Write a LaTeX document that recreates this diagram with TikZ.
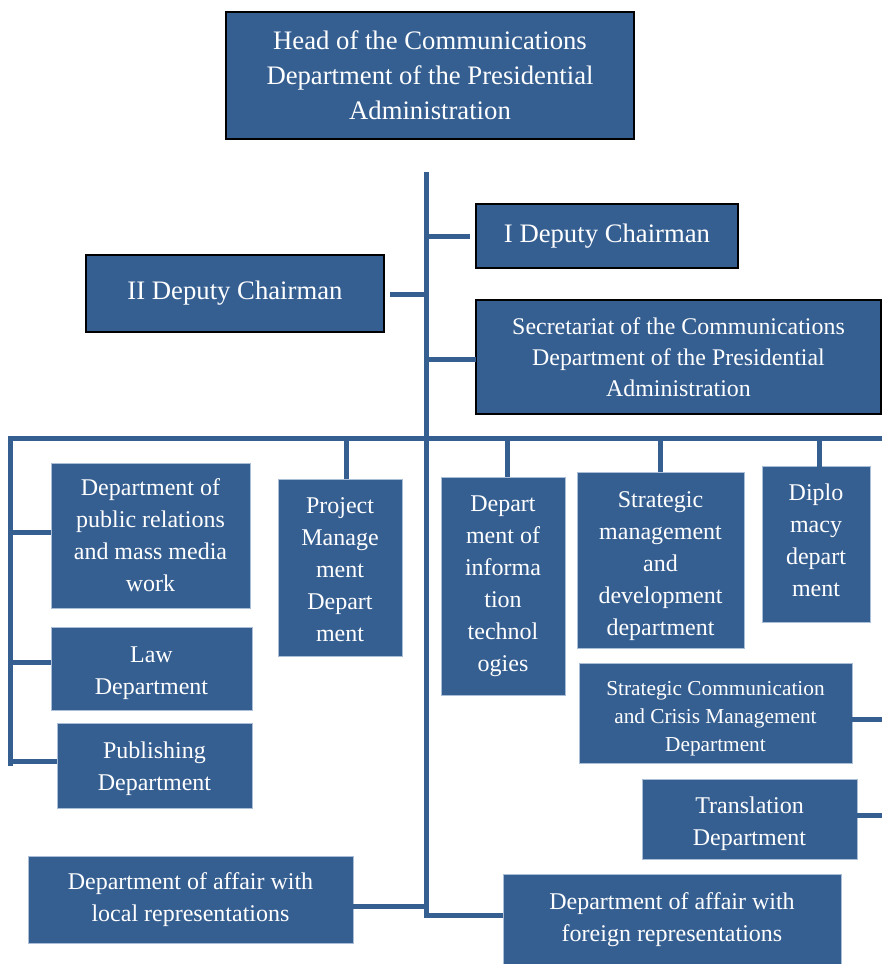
\documentclass[tikz,border=0pt]{standalone}
\usepackage{fontspec}
\setmainfont{Liberation Serif}
\definecolor{boxblue}{RGB}{54,95,145}
\definecolor{edgeblue}{RGB}{170,190,215}
\begin{document}
\begin{tikzpicture}[x=1pt,y=-1pt,
  box/.style={fill=boxblue, text=white, align=center, inner sep=0pt, outer sep=0pt, anchor=north west},
  topbox/.style={box, draw=black, line width=1.5pt, font=\fontsize{26.7}{35}\selectfont},
  midbox/.style={box, draw=edgeblue, line width=0.8pt, font=\fontsize{24}{32}\selectfont},
  smallbox/.style={box, draw=edgeblue, line width=0.8pt, font=\fontsize{21.3}{28}\selectfont},
  link/.style={draw=boxblue, line width=5pt, line join=miter}]
\useasboundingbox (0,0) rectangle (882,964);

% top boxes
\node[topbox, minimum width=408, minimum height=127] (head) at (226,12)
  {Head of the Communications\\Department of the Presidential\\Administration};
\node[topbox, minimum width=262, minimum height=64] (idep) at (476,204) {I Deputy Chairman};
\node[topbox, minimum width=298, minimum height=77] (iidep) at (86,255) {II Deputy Chairman};
\node[topbox, font=\fontsize{23.9}{31}\selectfont, minimum width=405, minimum height=114] (secr) at (476,300)
  {Secretariat of the Communications\\Department of the Presidential\\Administration};

% middle boxes
\node[midbox, minimum width=199, minimum height=145] (pr) at (51,463)
  {Department of\\public relations\\and mass media\\work};
\node[midbox, text height=56.3pt, minimum width=201, minimum height=83] (law) at (51,627) {Law\\Department};
\node[midbox, text height=54.3pt, minimum width=195, minimum height=85] (pub) at (57,723) {Publishing\\Department};
\node[midbox, text height=148.3pt, minimum width=124, minimum height=177] (pm) at (278,479)
  {Project\\Manage\\ment\\Depart\\ment};
\node[midbox, minimum width=124, minimum height=218] (it) at (441,477)
  {Depart\\ment of\\informa\\tion\\technol\\ogies};
\node[midbox, text height=156.3pt, minimum width=167, minimum height=176] (sm) at (577,472)
  {Strategic\\management\\and\\development\\department};
\node[midbox, text height=104.3pt, minimum width=108, minimum height=156] (dip) at (762,466)
  {Diplo\\macy\\depart\\ment};
\node[smallbox, text height=82.5pt, minimum width=273, minimum height=100] (scc) at (579,663)
  {Strategic Communication\\and Crisis Management\\Department};
\node[midbox, text height=58.3pt, minimum width=215, minimum height=80] (tr) at (642,779) {Translation\\Department};
\node[midbox, minimum width=325, minimum height=87] (loc) at (28,856)
  {Department of affair with\\local representations};
\node[midbox, minimum width=338, minimum height=92] (for) at (503,874)
  {Department of affair with\\foreign representations};

% coordinates of the trunk and bus
\coordinate (ttop) at (426,172);
\coordinate (tbot) at (426,918);
\coordinate (busL) at (10,438);
\coordinate (busR) at (884,438);
\coordinate (leftbot) at (10,766);
\coordinate (redge) at (884,0);

% trunk
\draw[link] (ttop) -- (tbot);
% deputies and secretariat
\draw[link] (ttop |- idep.west) -- ([xshift=-6pt]idep.west);
\draw[link] ([xshift=6pt,yshift=-1pt]iidep.east) -- ([yshift=-1pt]ttop |- iidep.east);
\draw[link] ([yshift=-2pt]ttop |- secr.west) -- ([yshift=-2pt]secr.west);
% bus
\draw[link] (busR) -- (busL) -- (leftbot);
\draw[link] ([yshift=3pt]busL |- pr.west) -- ([yshift=3pt]pr.west);
\draw[link] ([yshift=6pt]busL |- law.west) -- ([yshift=6pt]law.west);
\draw[link] ([yshift=4pt]busL |- pub.west) -- ([yshift=4pt]pub.west);
% drops
\draw[link] ([xshift=6pt]pm.north |- busL) -- ([xshift=6pt]pm.north);
\draw[link] ([xshift=4pt]it.north |- busL) -- ([xshift=4pt]it.north);
\draw[link] (sm.north |- busL) -- (sm.north);
\draw[link] ([xshift=3pt]dip.north |- busL) -- ([xshift=3pt,yshift=-3pt]dip.north);
% right side stubs
\draw[link] ([yshift=-6pt]scc.east) -- ([yshift=-6pt]scc.east -| redge);
\draw[link] ([yshift=4pt]tr.east) -- ([yshift=4pt]tr.east -| redge);
% bottom
\draw[link] ([yshift=-7pt]loc.east) -- ([yshift=-7pt]loc.east -| tbot);
\draw[link] ([yshift=3pt]tbot) -- ([yshift=3pt]tbot -| for.west);
\end{tikzpicture}
\end{document}
